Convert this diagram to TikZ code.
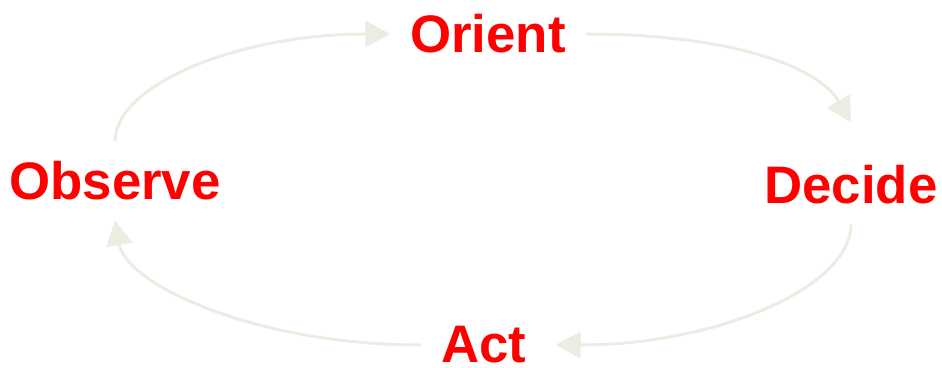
\documentclass[tikz,border=0pt]{standalone}
\usepackage{fontspec}
\setmainfont{Liberation Sans}
\usetikzlibrary{arrows.meta}
\definecolor{loopgray}{RGB}{236,236,226}

\begin{document}
\begin{tikzpicture}
  [x=.5pt,y=-.5pt,every node/.style={text=red, inner sep=0pt, outer sep=10pt,
    font=\bfseries\fontsize{26.4}{30}\selectfont}]
  \useasboundingbox (0,0) rectangle (942,368);
  \node (Observe) at (115,181) {Observe};
  \node (Orient) at (488,34) {Orient};
  \node (Decide) at (851,185) {Decide};
  \node (Act) at (484,345) {Act};
  \begin{scope}[line width=1.5pt, loopgray, -{Triangle[length=12.5pt,width=13pt]}]
  \draw (Observe.north) to[out=90,in=180,out looseness=.5,in looseness=1.3] (Orient.west);
  \draw (Orient.east) to[out=0,in=120,out looseness=1.3,in looseness=.6] ([yshift=11.5pt]Decide.north);
  \draw (Decide.south) to[out=270,in=0,out looseness=.5,in looseness=1.3] ([xshift=4.5pt]Act.east);
  \draw (Act.west) to[out=180,in=280,out looseness=1.3,in looseness=.5] (Observe.south);
  \end{scope}
\end{tikzpicture}
\end{document}
